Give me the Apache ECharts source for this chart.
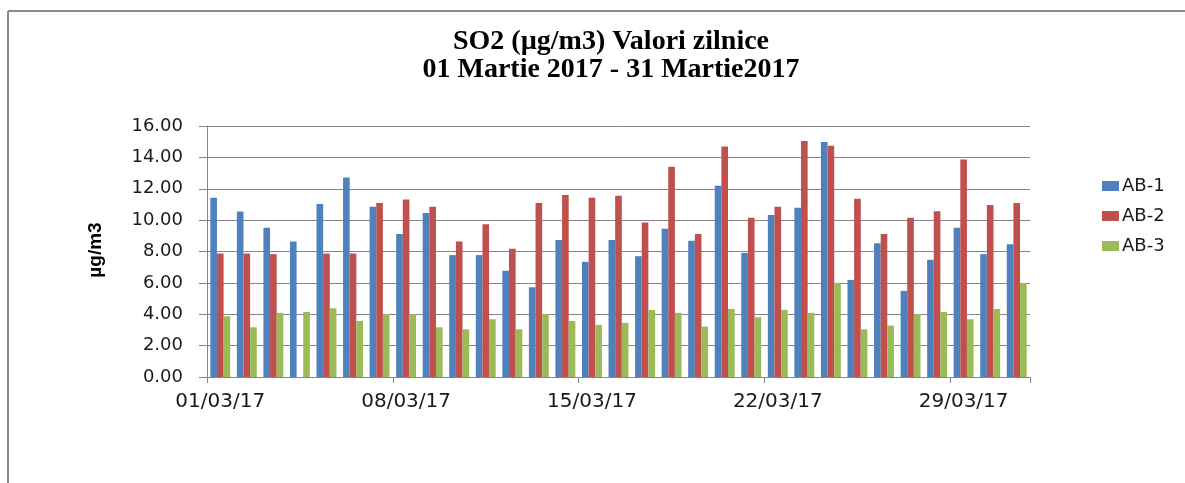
<!DOCTYPE html>
<html>
<head>
<meta charset="utf-8">
<script src="https://cdn.jsdelivr.net/npm/echarts@6/dist/echarts.min.js"></script>
<style>
  html, body { margin: 0; padding: 0; background: #fff; }
  #chart { width: 1185px; height: 483px; }
</style>
</head>
<body>
<div id="chart"></div>
<script>
// ---- data ----
var days = [
  "01/03/17","02/03/17","03/03/17","04/03/17","05/03/17","06/03/17","07/03/17",
  "08/03/17","09/03/17","10/03/17","11/03/17","12/03/17","13/03/17","14/03/17",
  "15/03/17","16/03/17","17/03/17","18/03/17","19/03/17","20/03/17","21/03/17",
  "22/03/17","23/03/17","24/03/17","25/03/17","26/03/17","27/03/17","28/03/17",
  "29/03/17","30/03/17","31/03/17"
];
var ab1 = [11.43,10.55,9.51,8.64,11.02,12.72,10.85,9.11,10.45,7.77,7.77,6.77,5.72,8.74,
           7.34,8.74,7.70,9.45,8.68,12.19,7.91,10.32,10.79,14.98,6.19,8.53,5.49,7.47,
           9.51,7.83,8.47];
var ab2 = [7.87,7.87,7.83,null,7.87,7.87,11.09,11.32,10.85,8.64,9.74,8.17,11.09,11.60,
           11.43,11.55,9.85,13.40,9.11,14.70,10.15,10.85,15.04,14.74,11.36,9.11,10.15,10.57,
           13.87,10.96,11.09];
var ab3 = [3.87,3.17,4.09,4.15,4.38,3.57,4.02,4.00,3.17,3.04,3.68,3.04,4.02,3.57,
           3.32,3.45,4.28,4.09,3.21,4.34,3.81,4.28,4.09,6.00,3.04,3.28,4.00,4.15,
           3.68,4.34,6.00];
var seriesNames = ["AB-1","AB-2","AB-3"];
var yTicks = { min: 0, max: 16, interval: 2 };

// ---- chart ----
var chart = echarts.init(document.getElementById('chart'), null, { renderer: 'canvas' });
var grey = '#868686';
var colors = ['#4F81BD', '#C0504D', '#9BBB59'];
var seriesData = [ab1, ab2, ab3];

chart.setOption({
  animation: false,
  backgroundColor: '#ffffff',
  color: colors,
  title: {
    text: 'SO2 (µg/m3) Valori zilnice\n01 Martie 2017 - 31 Martie2017',
    left: 606,
    top: 23,
    textAlign: 'center',
    textStyle: {
      fontFamily: 'Liberation Serif',
      fontWeight: 'bold',
      fontSize: 28,
      lineHeight: 28,
      color: '#000'
    }
  },
  legend: {
    orient: 'vertical',
    left: 1097,
    top: 172,
    itemWidth: 17,
    itemHeight: 10,
    itemGap: 12,
    icon: 'rect',
    textStyle: { fontFamily: 'DejaVu Sans', fontSize: 18, color: '#1a1a1a', padding: [0, 0, 0, -2] },
    data: seriesNames
  },
  grid: { left: 207, right: 155, top: 126, bottom: 106, containLabel: false },
  xAxis: {
    type: 'category',
    data: days,
    boundaryGap: true,
    axisLine: { show: true, lineStyle: { color: grey, width: 1 } },
    axisTick: { show: true, interval: 6, alignWithLabel: false, length: 6, lineStyle: { color: grey } },
    axisLabel: {
      interval: 6,
      margin: 15,
      fontFamily: 'DejaVu Sans',
      fontSize: 20,
      color: '#1a1a1a'
    },
    splitLine: { show: false }
  },
  yAxis: {
    type: 'value',
    min: yTicks.min,
    max: yTicks.max,
    interval: yTicks.interval,
    axisLine: { show: true, lineStyle: { color: grey, width: 1 } },
    axisTick: { show: true, inside: false, length: 8, lineStyle: { color: grey } },
    axisLabel: {
      margin: 24,
      fontFamily: 'DejaVu Sans',
      fontSize: 18,
      color: '#1a1a1a',
      formatter: function (v) { return v.toFixed(2); }
    },
    splitLine: { show: true, lineStyle: { color: grey, width: 1 } }
  },
  graphic: [
    { type: 'line', shape: { x1: 8, y1: 11, x2: 1185, y2: 11 }, style: { stroke: '#8a8a8a', lineWidth: 2 } },
    { type: 'line', shape: { x1: 8, y1: 11, x2: 8, y2: 483 }, style: { stroke: '#8a8a8a', lineWidth: 2 } },
    {
      type: 'text', x: 96, y: 250, rotation: Math.PI / 2,
      style: {
        text: 'µg/m3', textAlign: 'center', textVerticalAlign: 'middle',
        fontFamily: 'Liberation Sans', fontWeight: 'bold', fontSize: 19, fill: '#000'
      }
    }
  ],
  series: seriesNames.map(function (name, i) {
    return {
      name: name,
      type: 'bar',
      data: seriesData[i],
      barGap: '0%',
      barCategoryGap: '25%',
      itemStyle: { color: colors[i] }
    };
  })
});
</script>
</body>
</html>
